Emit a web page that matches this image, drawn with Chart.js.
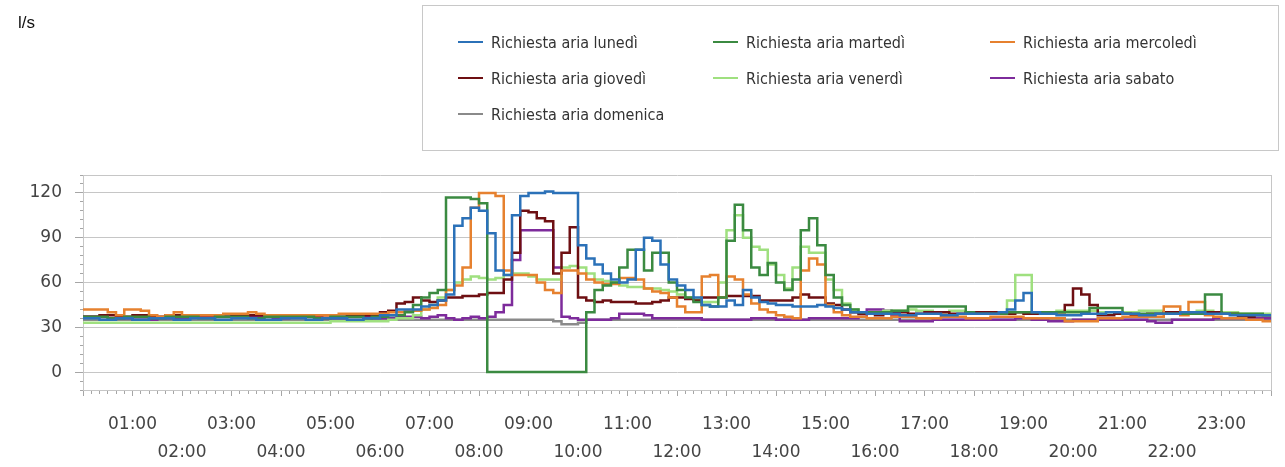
<!DOCTYPE html>
<html>
<head>
<meta charset="utf-8">
<script src="https://cdn.jsdelivr.net/npm/chart.js@4/dist/chart.umd.min.js"></script>
<style>
    body { margin: 0; background: #fff; }
    #wrap { position: relative; width: 1285px; height: 467px; overflow: hidden; }
    #unit { position: absolute; left: 18px; top: 13px; font: 17px "Liberation Sans", Arial, sans-serif; color: #111; }
    #legend {
        position: absolute; left: 422px; top: 5px; width: 857px; height: 146px;
        border: 1px solid #c8c8c8; box-sizing: border-box;
        display: grid; grid-template-columns: 255px 277px auto; grid-auto-rows: 36px;
        padding: 18px 0 0 35px;
        font: 16px "Liberation Sans Narrow", "DejaVu Sans Condensed", sans-serif; color: #333;
    }
    #legend .item { display: flex; align-items: center; white-space: nowrap; }
    #legend .swatch { width: 25px; height: 2px; margin-right: 8px; }
</style>
</head>
<body>
<div id="wrap">
    <canvas id="myChart" width="1285" height="467"></canvas>
    <div id="unit">l/s</div>
    <div id="legend"></div>
</div>
<script>
// time of each sample, minutes from midnight (one every 10 minutes)
var minutes = Array.from({ length: 145 }, function (_, i) { return i * 10; });

// hour labels shown under the axis
var hourLabels = ['01:00', '02:00', '03:00', '04:00', '05:00', '06:00', '07:00', '08:00',
    '09:00', '10:00', '11:00', '12:00', '13:00', '14:00', '15:00', '16:00',
    '17:00', '18:00', '19:00', '20:00', '21:00', '22:00', '23:00'];

var seriesNames = ['Richiesta aria lunedì', 'Richiesta aria martedì', 'Richiesta aria mercoledì',
    'Richiesta aria giovedì', 'Richiesta aria venerdì', 'Richiesta aria sabato', 'Richiesta aria domenica'];

var seriesColors = ['#2b71b8', '#3b8a41', '#e6812f', '#6e0f12', '#9fe07f', '#7d2b9b', '#8a8a8a'];

// air demand (l/s), one row = 2 hours
var lunedi = [36,36,35,35,36,36,35,35,36,36,36,35,
    35,36,36,36,35,35,36,36,36,35,35,35,
    36,36,36,35,35,36,36,36,35,35,36,36,
    38,38,42,42,42,44,45,48,52,98,103,110,
    108,93,68,65,105,118,120,120,121,120,120,120,
    85,76,72,66,62,60,62,82,90,88,72,62,
    58,55,50,45,44,44,48,45,55,50,47,46,
    45,45,44,44,44,45,44,43,42,40,40,39,
    39,39,39,38,38,39,39,39,38,38,39,39,
    39,39,39,40,42,48,53,40,39,39,38,38,
    38,39,39,39,40,40,39,39,38,38,39,39,
    39,40,40,40,39,39,39,38,38,38,38,38,38];

var martedi = [37,37,37,36,36,37,37,37,36,36,37,37,
    37,37,36,36,37,37,37,37,36,36,37,37,
    37,37,37,37,36,36,37,37,37,37,36,37,
    37,38,38,40,45,50,53,55,117,117,117,116,
    113,0,0,0,0,0,0,0,0,0,0,0,
    0,40,55,58,60,70,82,82,68,80,80,60,
    55,50,47,45,44,50,88,112,95,70,65,73,
    60,55,62,95,103,85,65,50,45,42,40,40,
    40,40,41,41,44,44,44,44,44,44,44,40,
    39,39,39,39,40,40,40,40,40,40,40,40,
    40,40,43,43,43,43,39,39,39,39,39,39,
    39,39,39,39,52,52,39,39,39,39,39,38,38];

var mercoledi = [42,42,42,40,38,42,42,41,38,37,38,40,
    38,38,38,38,38,39,39,39,40,39,38,38,
    38,38,38,38,38,38,38,39,39,39,39,39,
    39,40,40,41,41,42,43,45,55,58,70,110,
    120,120,118,68,65,65,65,60,55,53,68,68,
    66,62,60,59,59,63,63,62,56,54,53,50,
    44,40,40,64,65,50,64,62,52,46,42,40,
    38,37,36,68,76,72,45,40,38,37,37,36,
    36,36,37,37,37,36,36,36,37,37,37,36,
    36,36,37,37,37,37,36,36,36,36,36,34,
    34,34,34,36,36,36,37,37,37,37,37,44,
    44,38,47,47,38,37,36,36,36,35,35,34,34];

var giovedi = [37,37,38,38,37,37,38,38,37,37,38,38,
    38,38,38,38,37,37,38,38,38,38,37,37,
    38,38,38,38,38,38,37,37,38,38,38,38,
    40,41,46,47,50,48,47,48,50,50,51,51,
    52,53,53,62,80,108,107,103,101,66,80,97,
    50,48,47,48,47,47,47,46,46,47,48,50,
    50,49,48,50,50,50,51,51,51,51,48,48,
    48,48,50,52,50,50,46,45,42,40,39,39,
    38,39,40,40,39,39,40,40,40,39,39,40,
    40,40,40,40,39,40,39,39,40,40,40,45,
    56,52,45,38,38,39,39,38,38,39,39,40,
    40,40,39,39,40,40,39,39,37,37,38,38,38];

var venerdi = [33,33,33,33,33,33,33,33,33,33,33,33,
    33,33,33,33,33,33,33,33,33,33,33,33,
    33,33,33,33,33,33,34,34,34,34,34,34,
    34,35,36,36,38,42,45,50,55,60,62,64,
    63,62,63,65,66,66,64,62,62,62,70,71,
    70,66,62,61,60,58,57,57,56,56,55,54,
    52,50,49,47,47,60,95,105,90,84,82,72,
    65,56,70,84,80,80,62,55,46,42,40,40,
    40,41,41,41,42,41,41,40,40,41,41,40,
    40,40,40,40,48,65,65,40,40,40,41,41,
    41,41,41,40,40,40,40,40,41,41,41,40,
    40,40,40,41,41,40,40,40,39,39,39,39,39];

var sabato = [37,37,37,36,36,36,35,35,35,36,36,36,
    36,37,37,37,37,37,37,37,37,37,37,36,
    36,37,37,37,37,36,36,36,37,37,37,36,
    36,36,37,37,37,36,37,38,36,35,36,37,
    36,37,40,45,75,95,95,95,95,70,37,36,
    35,35,35,35,36,39,39,39,38,36,36,36,
    36,36,36,35,35,35,35,35,35,36,36,36,
    35,35,35,35,36,36,36,36,36,36,37,42,
    42,41,38,34,34,34,34,35,35,35,35,35,
    35,35,35,35,35,36,36,35,35,34,34,34,
    35,35,35,35,35,35,35,35,35,34,33,33,
    35,35,35,35,35,36,36,36,36,36,36,36,36];

var domenica = [35,35,35,35,35,35,35,35,35,35,35,35,
    35,35,35,35,35,35,35,35,35,35,35,35,
    35,35,35,35,35,35,35,35,35,35,35,35,
    35,35,35,35,35,35,35,35,35,35,35,35,
    35,35,35,35,35,35,35,35,35,34,32,32,
    33,35,35,35,35,35,35,35,35,35,35,35,
    35,35,35,35,35,35,35,35,35,35,35,35,
    35,35,35,35,35,35,35,35,35,35,35,35,
    35,35,35,35,35,35,35,35,35,35,35,35,
    35,35,35,35,35,35,35,35,35,35,35,35,
    35,35,35,35,35,35,35,35,35,35,35,35,
    35,35,35,35,35,35,35,35,35,35,35,35,35];

var seriesValues = [lunedi, martedi, mercoledi, giovedi, venerdi, sabato, domenica];

var axisFont = { family: 'DejaVu Sans', size: 17, lineHeight: 1.68 };
var gridGray = '#c6c6c6';
var tickGray = '#a6a6a6';

var datasets = seriesNames.map(function (name, i) {
    return {
        label: name,
        data: seriesValues[i],
        borderColor: seriesColors[i],
        backgroundColor: seriesColors[i],
        borderWidth: 2.5,
        pointRadius: 0,
        stepped: true,
        fill: false
    };
});

var ctx = document.getElementById('myChart').getContext('2d');
var chart = new Chart(ctx, {
    type: 'line',
    data: { labels: minutes, datasets: datasets },
    options: {
        responsive: false,
        animation: false,
        layout: { padding: { top: 175, right: 2, left: 0, bottom: 0 } },
        plugins: { legend: { display: false }, tooltip: { enabled: false } },
        scales: {
            x: {
                type: 'linear',
                min: 0,
                max: 1440,
                afterFit: function (scale) { scale.height = 77; },
                border: { color: gridGray },
                grid: {
                    // only the right edge of the plot box
                    color: function (c) { return c.tick && c.tick.value === 1440 ? gridGray : 'rgba(0,0,0,0)'; },
                    tickColor: tickGray,
                    tickLength: 6,
                    tickBorderDash: function (c) { return c.tick && c.tick.value % 60 === 0 ? [] : [3, 20]; }
                },
                ticks: {
                    stepSize: 10,
                    autoSkip: false,
                    maxRotation: 0,
                    padding: 14,
                    color: '#444',
                    font: axisFont,
                    callback: function (v) {
                        if (v % 60 !== 0 || v === 0 || v === 1440) return '';
                        var h = v / 60;
                        var text = hourLabels[h - 1];
                        // even hours go on the second row
                        return h % 2 ? text : ['', text];
                    }
                }
            },
            y: {
                min: -12,
                max: 132,
                afterFit: function (scale) { scale.width = 83; },
                border: { color: gridGray },
                grid: {
                    color: function (c) {
                        var v = c.tick ? c.tick.value : 0;
                        return (v % 30 === 0 || v === 132) ? gridGray : 'rgba(0,0,0,0)';
                    },
                    tickColor: tickGray,
                    tickLength: 8,
                    tickBorderDash: function (c) { return c.tick && c.tick.value % 30 === 0 ? [] : [0, 5, 3, 20]; }
                },
                ticks: {
                    stepSize: 6,
                    autoSkip: false,
                    padding: 13,
                    color: '#444',
                    font: { family: 'DejaVu Sans', size: 17 },
                    callback: function (v) { return v % 30 === 0 ? String(v) : ''; }
                }
            }
        }
    }
});

// legend drawn as html, three entries per row
var legend = document.getElementById('legend');
chart.data.datasets.forEach(function (ds) {
    var item = document.createElement('div');
    item.className = 'item';
    var sw = document.createElement('span');
    sw.className = 'swatch';
    sw.style.background = ds.borderColor;
    var txt = document.createElement('span');
    txt.textContent = ds.label;
    item.appendChild(sw);
    item.appendChild(txt);
    legend.appendChild(item);
});
</script>
</body>
</html>
